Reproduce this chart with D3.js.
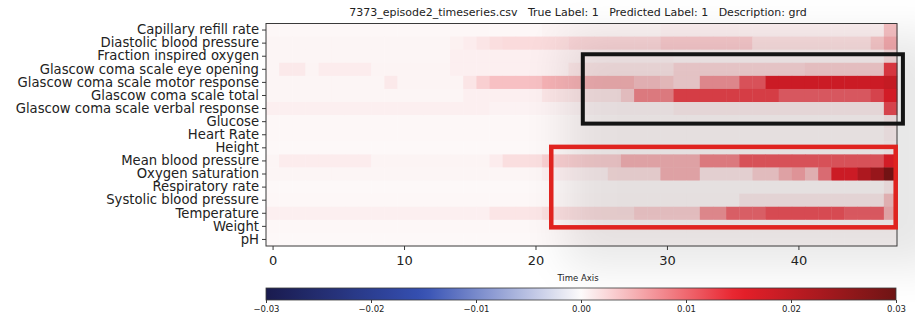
<!DOCTYPE html>
<html>
<head>
<meta charset="utf-8">
<script src="https://cdn.jsdelivr.net/npm/d3@7"></script>
<style>
  body { margin: 0; background: #fff; }
  svg { display: block; font-family: "DejaVu Sans", sans-serif; }
</style>
</head>
<body>
<svg id="chart" width="915" height="320"></svg>
<script>
// Feature names, top to bottom
const features = [
  "Capillary refill rate", "Diastolic blood pressure", "Fraction inspired oxygen",
  "Glascow coma scale eye opening", "Glascow coma scale motor response",
  "Glascow coma scale total", "Glascow coma scale verbal response", "Glucose",
  "Heart Rate", "Height", "Mean blood pressure", "Oxygen saturation",
  "Respiratory rate", "Systolic blood pressure", "Temperature", "Weight", "pH"
];

// Attribution per time step (48 steps, 0..47) for each feature
const capillaryRefillRate = [
  0.0003,0.0003,0.0003,0.0003,0.0003,0.0003,0.0003,0.0003,0.0003,0.0003,
  0.0003,0.0003,0.0003,0.0003,0.0003,0.0003,0.0003,0.0003,0.0003,0.0003,
  0.0003,0.0005,0.0005,0.0005,0.0005,0.0005,0.0005,0.0005,0.0005,0.0005,
  0.0008,0.0008,0.0008,0.0008,0.0008,0.0008,0.0008,0.0008,0.0008,0.0008,
  0.0008,0.0008,0.0008,0.0008,0.0008,0.0008,0.0008,0.0040];
const diastolicBP = [
  0.0004,0.0004,0.0004,0.0004,0.0004,0.0004,0.0004,0.0004,0.0004,0.0004,
  0.0004,0.0004,0.0004,0.0004,0.0007,0.0010,0.0015,0.0020,0.0022,0.0022,
  0.0022,0.0022,0.0022,0.0026,0.0026,0.0026,0.0026,0.0026,0.0026,0.0026,
  0.0034,0.0034,0.0034,0.0034,0.0034,0.0034,0.0034,0.0020,0.0020,0.0020,
  0.0020,0.0020,0.0020,0.0020,0.0020,0.0020,0.0035,0.0055];
const fractionInspiredO2 = [
  0.0004,0.0004,0.0004,0.0004,0.0004,0.0004,0.0004,0.0004,0.0004,0.0004,
  0.0004,0.0004,0.0004,0.0004,0.0008,0.0008,0.0008,0.0008,0.0008,0.0008,
  0.0008,0.0008,0.0008,0.0008,0.0008,0.0008,0.0008,0.0008,0.0008,0.0008,
  0.0008,0.0006,0.0006,0.0006,0.0006,0.0006,0.0006,0.0006,0.0006,0.0006,
  0.0006,0.0006,0.0006,0.0006,0.0006,0.0006,0.0006,0.0020];
const gcsEyeOpening = [
  0.0004,0.0012,0.0012,0.0005,0.0010,0.0010,0.0010,0.0010,0.0005,0.0005,
  0.0005,0.0005,0.0005,0.0005,0.0008,0.0008,0.0008,0.0008,0.0008,0.0008,
  0.0008,0.0008,0.0008,0.0015,0.0015,0.0015,0.0015,0.0015,0.0015,0.0015,
  0.0015,0.0025,0.0025,0.0025,0.0025,0.0025,0.0025,0.0025,0.0025,0.0025,
  0.0025,0.0030,0.0030,0.0030,0.0030,0.0030,0.0030,0.0130];
const gcsMotorResponse = [
  0.0004,0.0004,0.0004,0.0004,0.0004,0.0004,0.0004,0.0004,0.0004,0.0012,
  0.0005,0.0005,0.0005,0.0005,0.0005,0.0015,0.0030,0.0040,0.0040,0.0040,
  0.0040,0.0050,0.0050,0.0050,0.0050,0.0050,0.0050,0.0050,0.0040,0.0040,
  0.0035,0.0025,0.0025,0.0070,0.0070,0.0070,0.0110,0.0110,0.0160,0.0160,
  0.0160,0.0160,0.0160,0.0160,0.0160,0.0160,0.0160,0.0170];
const gcsTotal = [
  0.0004,0.0004,0.0004,0.0004,0.0004,0.0004,0.0004,0.0004,0.0004,0.0004,
  0.0004,0.0004,0.0004,0.0004,0.0004,0.0008,0.0008,0.0008,0.0008,0.0008,
  0.0008,0.0015,0.0015,0.0015,0.0015,0.0015,0.0015,0.0030,0.0080,0.0080,
  0.0080,0.0125,0.0125,0.0125,0.0125,0.0125,0.0125,0.0125,0.0125,0.0105,
  0.0105,0.0105,0.0105,0.0105,0.0105,0.0105,0.0120,0.0150];
const gcsVerbalResponse = [
  0.0008,0.0008,0.0008,0.0008,0.0008,0.0008,0.0008,0.0008,0.0008,0.0008,
  0.0008,0.0008,0.0008,0.0008,0.0008,0.0008,0.0008,0.0006,0.0006,0.0006,
  0.0006,0.0006,0.0006,0.0006,0.0006,0.0006,0.0006,0.0006,0.0006,0.0006,
  0.0006,0.0010,0.0010,0.0010,0.0010,0.0010,0.0010,0.0010,0.0010,0.0010,
  0.0010,0.0010,0.0010,0.0010,0.0010,0.0010,0.0010,0.0120];
const glucose = [
  0.0003,0.0003,0.0003,0.0003,0.0003,0.0003,0.0003,0.0003,0.0003,0.0003,
  0.0003,0.0003,0.0003,0.0003,0.0003,0.0003,0.0003,0.0003,0.0003,0.0003,
  0.0003,0.0003,0.0003,0.0003,0.0003,0.0003,0.0003,0.0003,0.0003,0.0003,
  0.0003,0.0003,0.0003,0.0003,0.0003,0.0003,0.0003,0.0003,0.0003,0.0003,
  0.0003,0.0003,0.0003,0.0003,0.0003,0.0003,0.0003,0.0010];
const heartRate = [
  0.0003,0.0003,0.0003,0.0003,0.0003,0.0003,0.0003,0.0003,0.0003,0.0003,
  0.0003,0.0003,0.0003,0.0003,0.0003,0.0003,0.0003,0.0003,0.0003,0.0003,
  0.0003,0.0003,0.0003,0.0003,0.0003,0.0003,0.0003,0.0003,0.0003,0.0003,
  0.0003,0.0003,0.0003,0.0003,0.0003,0.0003,0.0003,0.0003,0.0003,0.0003,
  0.0003,0.0003,0.0003,0.0003,0.0003,0.0003,0.0003,0.0008];
const height = [
  0.0002,0.0002,0.0002,0.0002,0.0002,0.0002,0.0002,0.0002,0.0002,0.0002,
  0.0002,0.0002,0.0002,0.0002,0.0002,0.0002,0.0002,0.0002,0.0002,0.0002,
  0.0002,0.0002,0.0002,0.0002,0.0002,0.0002,0.0002,0.0002,0.0002,0.0002,
  0.0002,0.0002,0.0002,0.0002,0.0002,0.0002,0.0002,0.0002,0.0002,0.0002,
  0.0002,0.0002,0.0002,0.0002,0.0002,0.0002,0.0002,0.0006];
const meanBP = [
  0.0004,0.0010,0.0010,0.0010,0.0010,0.0010,0.0010,0.0010,0.0005,0.0005,
  0.0005,0.0005,0.0005,0.0005,0.0005,0.0005,0.0005,0.0010,0.0020,0.0020,
  0.0020,0.0030,0.0030,0.0030,0.0030,0.0030,0.0030,0.0050,0.0050,0.0050,
  0.0050,0.0050,0.0050,0.0080,0.0080,0.0080,0.0110,0.0110,0.0110,0.0110,
  0.0110,0.0110,0.0110,0.0110,0.0110,0.0110,0.0110,0.0150];
const oxygenSaturation = [
  0.0004,0.0004,0.0004,0.0004,0.0004,0.0004,0.0004,0.0004,0.0004,0.0004,
  0.0004,0.0004,0.0004,0.0004,0.0004,0.0004,0.0004,0.0004,0.0004,0.0004,
  0.0004,0.0008,0.0008,0.0008,0.0008,0.0008,0.0020,0.0020,0.0020,0.0020,
  0.0050,0.0050,0.0050,0.0015,0.0015,0.0015,0.0015,0.0030,0.0030,0.0050,
  0.0060,0.0040,0.0090,0.0160,0.0160,0.0200,0.0230,0.0280];
const respiratoryRate = [
  0.0002,0.0002,0.0002,0.0002,0.0002,0.0002,0.0002,0.0002,0.0002,0.0002,
  0.0002,0.0002,0.0002,0.0002,0.0002,0.0002,0.0002,0.0002,0.0002,0.0002,
  0.0002,0.0002,0.0002,0.0002,0.0002,0.0002,0.0002,0.0002,0.0002,0.0002,
  0.0002,0.0002,0.0002,0.0002,0.0002,0.0002,0.0002,0.0002,0.0002,0.0002,
  0.0002,0.0002,0.0002,0.0002,0.0002,0.0002,0.0002,0.0010];
const systolicBP = [
  0.0003,0.0003,0.0003,0.0003,0.0003,0.0003,0.0003,0.0003,0.0003,0.0003,
  0.0003,0.0003,0.0003,0.0003,0.0003,0.0003,0.0003,0.0003,0.0003,0.0003,
  0.0003,0.0003,0.0003,0.0003,0.0003,0.0003,0.0003,0.0003,0.0003,0.0003,
  0.0003,0.0003,0.0003,0.0003,0.0003,0.0003,0.0012,0.0012,0.0012,0.0012,
  0.0012,0.0012,0.0012,0.0012,0.0012,0.0012,0.0012,0.0040];
const temperature = [
  0.0008,0.0008,0.0008,0.0008,0.0008,0.0008,0.0008,0.0008,0.0008,0.0008,
  0.0008,0.0008,0.0008,0.0008,0.0008,0.0008,0.0008,0.0015,0.0015,0.0015,
  0.0015,0.0020,0.0020,0.0020,0.0020,0.0020,0.0020,0.0020,0.0030,0.0030,
  0.0030,0.0030,0.0030,0.0070,0.0070,0.0100,0.0100,0.0100,0.0115,0.0115,
  0.0115,0.0115,0.0115,0.0115,0.0105,0.0105,0.0105,0.0050];
const weight = [
  0.0003,0.0003,0.0003,0.0003,0.0003,0.0003,0.0003,0.0003,0.0003,0.0003,
  0.0003,0.0003,0.0003,0.0003,0.0003,0.0003,0.0003,0.0003,0.0003,0.0003,
  0.0003,0.0003,0.0003,0.0003,0.0003,0.0003,0.0003,0.0003,0.0003,0.0003,
  0.0003,0.0003,0.0003,0.0003,0.0003,0.0003,0.0003,0.0003,0.0003,0.0003,
  0.0003,0.0003,0.0003,0.0003,0.0003,0.0003,0.0003,0.0003];
const pH = [
  0.0002,0.0002,0.0002,0.0002,0.0002,0.0002,0.0002,0.0002,0.0002,0.0002,
  0.0002,0.0002,0.0002,0.0002,0.0002,0.0002,0.0002,0.0002,0.0002,0.0002,
  0.0002,0.0002,0.0002,0.0002,0.0002,0.0002,0.0002,0.0002,0.0002,0.0002,
  0.0002,0.0002,0.0002,0.0002,0.0002,0.0002,0.0002,0.0002,0.0002,0.0002,
  0.0002,0.0002,0.0002,0.0002,0.0002,0.0002,0.0002,0.0002];

const timeTicks = [0, 10, 20, 30, 40];
const colorTicks = [-0.03, -0.02, -0.01, 0.00, 0.01, 0.02, 0.03];
const titleText = "7373_episode2_timeseries.csv   True Label: 1   Predicted Label: 1   Description: grd";
const xLabel = "Time Axis";

// Highlighted regions: [first feature, last feature, time from, time to]
const blackRegion = ["Glascow coma scale eye opening", "Glascow coma scale verbal response", 23.6, 47.95];
const redRegion = ["Mean blood pressure", "Temperature", 21.2, 47.4];

const rows = [capillaryRefillRate, diastolicBP, fractionInspiredO2, gcsEyeOpening,
  gcsMotorResponse, gcsTotal, gcsVerbalResponse, glucose, heartRate, height, meanBP,
  oxygenSaturation, respiratoryRate, systolicBP, temperature, weight, pH];

const cells = [];
rows.forEach((vals, r) => vals.forEach((v, t) => cells.push({ f: features[r], t, v })));
const nSteps = rows[0].length;

const svg = d3.select("#chart");
const M = { left: 266, right: 897, top: 23.5, bottom: 246 };

const x = d3.scaleLinear().domain([-0.5, nSteps - 0.5]).range([M.left, M.right]);
const y = d3.scaleBand().domain(features).range([M.top, M.bottom]);

const color = d3.scaleLinear()
  .domain([-0.03, -0.015, 0, 0.015, 0.03])
  .range(["#1a1b4e", "#3550b3", "#fdfbfb", "#e81f2a", "#6e1414"])
  .clamp(true);

const defs = svg.append("defs");
defs.append("filter").attr("id", "soft")
  .attr("x", "-50%").attr("y", "-50%").attr("width", "200%").attr("height", "200%")
  .append("feGaussianBlur").attr("stdDeviation", 22);

// Heatmap cells
svg.append("g").selectAll("rect").data(cells).join("rect")
  .attr("x", d => x(d.t - 0.5))
  .attr("y", d => y(d.f))
  .attr("width", x(1) - x(0) + 0.4)
  .attr("height", y.bandwidth() + 0.4)
  .attr("fill", d => color(d.v));

// Soft shadow over the right-hand part of the panel
svg.append("rect")
  .attr("x", 565).attr("y", 35).attr("width", 380).attr("height", 232)
  .attr("fill", "#000").attr("opacity", 0.09)
  .attr("filter", "url(#soft)");

// Panel frame
svg.append("rect")
  .attr("x", M.left).attr("y", M.top)
  .attr("width", M.right - M.left).attr("height", M.bottom - M.top)
  .attr("fill", "none").attr("stroke", "#3a3a3a").attr("stroke-width", 1);

// Y axis
const yAxis = svg.append("g").attr("transform", `translate(${M.left},0)`)
  .call(d3.axisLeft(y).tickSize(4).tickPadding(3));
yAxis.select(".domain").remove();
yAxis.selectAll("line").attr("stroke", "#3a3a3a");
yAxis.selectAll("text").attr("font-size", 13.2).attr("fill", "#222")
  .attr("font-family", "DejaVu Sans, sans-serif");

// X axis
const xAxis = svg.append("g").attr("transform", `translate(0,${M.bottom})`)
  .call(d3.axisBottom(x).tickValues(timeTicks).tickSize(4).tickPadding(6));
xAxis.select(".domain").remove();
xAxis.selectAll("line").attr("stroke", "#3a3a3a");
xAxis.selectAll("text").attr("font-size", 13).attr("fill", "#222")
  .attr("font-family", "DejaVu Sans, sans-serif");

// Title and axis label
svg.append("text")
  .attr("x", 578).attr("y", 16)
  .attr("text-anchor", "middle")
  .attr("font-size", 11).attr("fill", "#222")
  .style("white-space", "pre")
  .text(titleText);

svg.append("text")
  .attr("x", 578).attr("y", 281)
  .attr("text-anchor", "middle")
  .attr("font-size", 8.5).attr("fill", "#222")
  .text(xLabel);

// Highlight boxes, padded a little beyond the rows they enclose
function region(r, stroke, w, pad) {
  svg.append("rect")
    .attr("x", x(r[2])).attr("y", y(r[0]) - pad)
    .attr("width", x(r[3]) - x(r[2]))
    .attr("height", y(r[1]) + y.bandwidth() - y(r[0]) + 2 * pad)
    .attr("fill", "none").attr("stroke", stroke).attr("stroke-width", w);
}
region(blackRegion, "#141414", 4, 8.5);
region(redRegion, "#e0231f", 4.5, 7.5);

// Colour bar
const cb = { left: 266, right: 896, top: 288, height: 12 };
const cx = d3.scaleLinear().domain([-0.03, 0.03]).range([cb.left, cb.right]);
const grad = defs.append("linearGradient").attr("id", "cbar");
d3.range(0, 1.0001, 0.02).forEach(p => {
  grad.append("stop").attr("offset", p)
    .attr("stop-color", color(-0.03 + 0.06 * p));
});
svg.append("rect")
  .attr("x", cb.left).attr("y", cb.top)
  .attr("width", cb.right - cb.left).attr("height", cb.height)
  .attr("fill", "url(#cbar)").attr("stroke", "#3a3a3a").attr("stroke-width", 0.8);

const cAxis = svg.append("g").attr("transform", `translate(0,${cb.top + cb.height})`)
  .call(d3.axisBottom(cx).tickValues(colorTicks).tickFormat(d3.format(".2f")).tickSize(3).tickPadding(3));
cAxis.select(".domain").remove();
cAxis.selectAll("line").attr("stroke", "#3a3a3a");
cAxis.selectAll("text").attr("font-size", 8.5).attr("fill", "#222")
  .attr("font-family", "DejaVu Sans, sans-serif")
  .text(d => d3.format(".2f")(d).replace("-", "\u2212"));
</script>
</body>
</html>
